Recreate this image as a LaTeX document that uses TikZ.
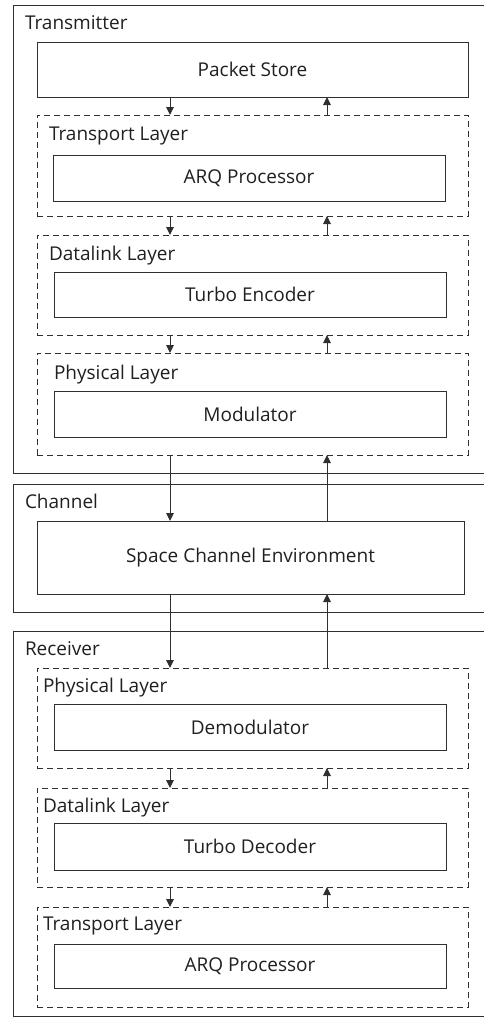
\documentclass[tikz,border=0pt]{standalone}
\usepackage{fontspec}
\setmainfont{Open Sans}
\usetikzlibrary{arrows.meta}
\definecolor{ln}{HTML}{303030}
\definecolor{tx}{HTML}{202020}
\tikzset{
  grp/.style={draw=ln, line width=1pt, inner sep=0pt, outer sep=0pt, minimum width=471.5pt},
  layerbox/.style={draw=ln, line width=1pt, dash pattern=on 6pt off 4pt, inner sep=0pt, outer sep=0pt, minimum width=431pt},
  blk/.style={draw=ln, line width=1pt, inner sep=0pt, outer sep=0pt, minimum width=392pt, text=tx, font=\fontsize{19}{22}\selectfont},
  lbl/.style={anchor=base west, inner sep=0pt, outer sep=0pt, text=tx, font=\fontsize{19}{22}\selectfont},
  arr/.style={draw=ln, line width=1pt, -{Triangle[width=7.5pt,length=8pt]}}
}
\begin{document}
\begin{tikzpicture}[x=1pt,y=-1pt]
\useasboundingbox (0,0) rectangle (483,1017);
\fill[white] (0,0) rectangle (483,1017);
\coordinate (dl) at (170,0);
\coordinate (ul) at (327,0);
% Transmitter
\node[grp, minimum height=468pt] (tx) at (248.75,239) {};
\node[lbl] (txl) at (25,29) {Transmitter};
\node[blk, minimum width=431pt, minimum height=55pt] (ps) at (252.5,69.5) {Packet Store};
\node[layerbox, minimum height=101pt] (ttr) at (252.5,165.5) {};
\node[lbl] (ttrl) at (49,140) {Transport Layer};
\node[blk, minimum height=46pt] (tarq) at (249,178) {ARQ Processor};
\node[layerbox, minimum height=100pt] (tdl) at (252.5,285) {};
\node[lbl] (tdll) at (49,260) {Datalink Layer};
\node[blk, minimum height=45pt] (tenc) at (250,294.5) {Turbo Encoder};
\node[layerbox, minimum height=102pt] (tph) at (252.5,404) {};
\node[lbl] (tphl) at (54,379) {Physical Layer};
\node[blk, minimum height=46pt] (mod) at (250,414) {Modulator};
% Channel
\node[grp, minimum height=128pt] (ch) at (248.75,548) {};
\node[lbl] (chl) at (25,508) {Channel};
\node[blk, minimum width=427pt, minimum height=73pt] (sce) at (250.5,557.5) {Space Channel Environment};
% Receiver
\node[grp, minimum height=385pt] (rx) at (248.75,823.5) {};
\node[lbl] (rxl) at (25,655) {Receiver};
\node[layerbox, minimum height=100pt] (rph) at (252.5,718) {};
\node[lbl] (rphl) at (43,692) {Physical Layer};
\node[blk, minimum height=46pt] (demod) at (250,727) {Demodulator};
\node[layerbox, minimum height=99pt] (rdl) at (252.5,837.5) {};
\node[lbl] (rdll) at (43,812) {Datalink Layer};
\node[blk, minimum height=47pt] (rdec) at (250,846.5) {Turbo Decoder};
\node[layerbox, minimum height=100pt] (rtr) at (252.5,957) {};
\node[lbl] (rtrl) at (43,930) {Transport Layer};
\node[blk, minimum height=44pt] (rarq) at (250,966) {ARQ Processor};
% arrows
\draw[arr] (ps.south -| dl) -- (ttr.north -| dl);
\draw[arr] (ttr.north -| ul) -- (ps.south -| ul);
\draw[arr] (ttr.south -| dl) -- (tdl.north -| dl);
\draw[arr] (tdl.north -| ul) -- (ttr.south -| ul);
\draw[arr] (tdl.south -| dl) -- (tph.north -| dl);
\draw[arr] (tph.north -| ul) -- (tdl.south -| ul);
\draw[arr] (tph.south -| dl) -- (sce.north -| dl);
\draw[arr] (sce.north -| ul) -- (tph.south -| ul);
\draw[arr] (sce.south -| dl) -- (rph.north -| dl);
\draw[arr] (rph.north -| ul) -- (sce.south -| ul);
\draw[arr] (rph.south -| dl) -- (rdl.north -| dl);
\draw[arr] (rdl.north -| ul) -- (rph.south -| ul);
\draw[arr] (rdl.south -| dl) -- (rtr.north -| dl);
\draw[arr] (rtr.north -| ul) -- (rdl.south -| ul);
\end{tikzpicture}
\end{document}
